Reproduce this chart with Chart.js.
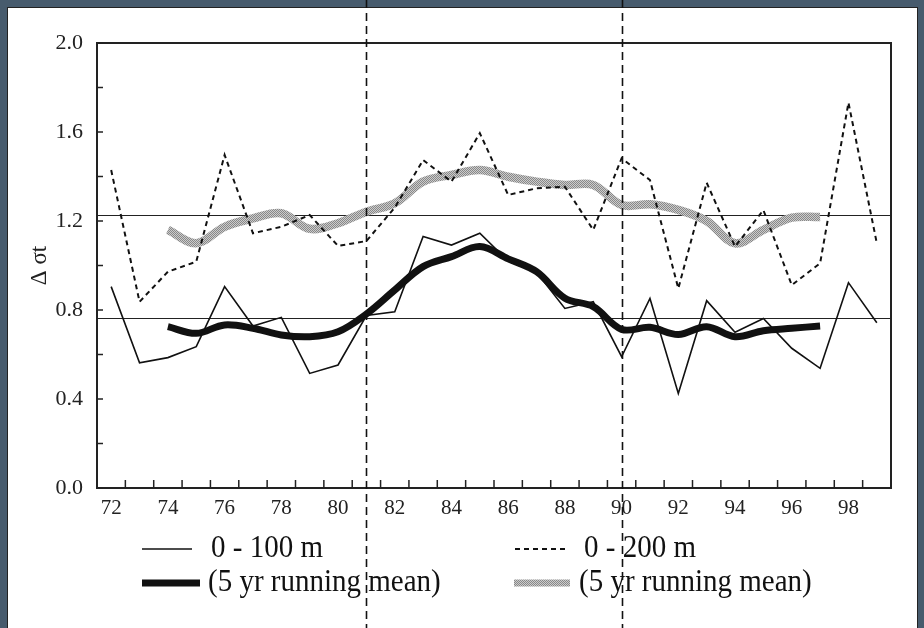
<html><head><meta charset="utf-8">
<script src="https://cdn.jsdelivr.net/npm/chart.js@4.4.0/dist/chart.umd.min.js"></script>
<style>
 body { margin:0; background:#475b6d; width:924px; height:628px; overflow:hidden; position:relative; }
 #paper { position:absolute; left:7px; top:7px; width:909px; height:621px; background:#fff; border-left:1px solid #222; border-top:1px solid #222; border-right:1px solid #222; }
 #c { position:absolute; left:0; top:0; }
</style>
</head>
<body>
<div id="paper"></div>
<canvas id="c" width="924" height="628"></canvas>
<script>
// years 1972..1999
var years = ['72','73','74','75','76','77','78','79','80','81','82','83','84','85',
             '86','87','88','89','90','91','92','93','94','95','96','97','98','99'];
// 0 - 100 m
var sigma100 = [0.905,0.563,0.586,0.635,0.905,0.728,0.767,0.515,0.553,0.775,0.792,1.13,1.092,1.145,
                1.02,0.97,0.807,0.837,0.59,0.852,0.425,0.842,0.70,0.762,0.628,0.538,0.923,0.743];
// 0 - 200 m
var sigma200 = [1.429,0.837,0.972,1.017,1.497,1.145,1.174,1.227,1.088,1.11,1.26,1.474,1.377,1.595,
                1.317,1.347,1.354,1.16,1.482,1.384,0.897,1.372,1.085,1.249,0.912,1.01,1.732,1.10];
// 5 yr running means
var mean100 = [null,null,0.725,0.695,0.733,0.718,0.688,0.68,0.702,0.782,0.89,0.995,1.04,1.085,
               1.03,0.972,0.853,0.815,0.713,0.722,0.69,0.725,0.68,0.707,0.718,0.728,null,null];
var mean200 = [null,null,1.16,1.10,1.174,1.212,1.235,1.165,1.19,1.242,1.28,1.377,1.407,1.429,
               1.399,1.377,1.362,1.362,1.272,1.275,1.25,1.20,1.10,1.16,1.215,1.218,null,null];
var yTicks = [0, 0.4, 0.8, 1.2, 1.6, 2.0];
var refLines = [1.225, 0.765];
var markYears = ['81','90'];
var legendItems = ['0 - 100 m', '(5 yr running mean)', '0 - 200 m', '(5 yr running mean)'];

var serif = "'Liberation Serif', 'DejaVu Serif', serif";

// stippled grey for the 0-200 m running mean
var pc = document.createElement('canvas');
pc.width = 2; pc.height = 2;
var pctx = pc.getContext('2d');
pctx.fillStyle = '#cccccc'; pctx.fillRect(0,0,2,2);
pctx.fillStyle = '#888888'; pctx.fillRect(0,0,1,1); pctx.fillRect(1,1,1,1);
var grey = pctx.createPattern(pc, 'repeat');

var frame = {
  id: 'frame',
  beforeDatasetsDraw: function(chart) {
    var c = chart.ctx, a = chart.chartArea, y = chart.scales.y;
    c.save();
    c.strokeStyle = '#222'; c.lineWidth = 1.2;
    refLines.forEach(function(v) {
      var py = Math.round(y.getPixelForValue(v)) + 0.5;
      c.beginPath(); c.moveTo(a.left, py); c.lineTo(a.right, py); c.stroke();
    });
    c.restore();
  },
  afterDraw: function(chart) {
    var c = chart.ctx, a = chart.chartArea, x = chart.scales.x, y = chart.scales.y;
    c.save();
    // box
    c.strokeStyle = '#222'; c.lineWidth = 2;
    c.strokeRect(a.left, a.top, a.right - a.left, a.bottom - a.top);
    // inward ticks on y every 0.2
    c.lineWidth = 1.5;
    y.ticks.forEach(function(t) {
      var py = y.getPixelForValue(t.value);
      c.beginPath(); c.moveTo(a.left, py); c.lineTo(a.left + 6, py); c.stroke();
    });
    // inward ticks on x at the year boundaries
    var step = x.getPixelForValue(1) - x.getPixelForValue(0);
    for (var i = 1; i < years.length; i++) {
      var px = x.getPixelForValue(i) - step / 2;
      c.beginPath(); c.moveTo(px, a.bottom); c.lineTo(px, a.bottom - 8); c.stroke();
    }
    // legend
    var rows = [549, 583];
    c.strokeStyle = '#111';
    c.lineWidth = 1.5; c.setLineDash([]);
    c.beginPath(); c.moveTo(142, rows[0]); c.lineTo(192, rows[0]); c.stroke();
    c.lineWidth = 7;
    c.beginPath(); c.moveTo(142, rows[1]); c.lineTo(200, rows[1]); c.stroke();
    c.lineWidth = 2; c.setLineDash([5, 4]);
    c.beginPath(); c.moveTo(515, rows[0]); c.lineTo(568, rows[0]); c.stroke();
    c.setLineDash([]);
    c.strokeStyle = grey; c.lineWidth = 7;
    c.beginPath(); c.moveTo(514, rows[1]); c.lineTo(570, rows[1]); c.stroke();
    c.fillStyle = '#111';
    c.font = '29px ' + serif;
    c.textBaseline = 'middle';
    var pos = [[211, rows[0]], [208, rows[1]], [584, rows[0]], [579, rows[1]]];
    legendItems.forEach(function(t, k) {
      c.save();
      c.translate(pos[k][0], pos[k][1]);
      c.scale(1, 1.1);
      c.fillText(t, 0, 0);
      c.restore();
    });
    // dashed year markers, full height
    c.strokeStyle = '#111'; c.lineWidth = 1.6; c.setLineDash([8, 5]);
    markYears.forEach(function(yr) {
      var px = Math.round(x.getPixelForValue(years.indexOf(yr))) + 0.5;
      c.beginPath(); c.moveTo(px, 0); c.lineTo(px, chart.height); c.stroke();
    });
    c.restore();
  }
};

new Chart(document.getElementById('c'), {
  type: 'line',
  data: {
    labels: years,
    datasets: [
      { label: legendItems[0], data: sigma100, borderColor: '#111', borderWidth: 1.6, tension: 0, pointRadius: 0 },
      { label: legendItems[2], data: sigma200, borderColor: '#111', borderWidth: 2, borderDash: [5, 4], tension: 0, pointRadius: 0 },
      { label: legendItems[1], data: mean100, borderColor: '#111', borderWidth: 7, tension: 0.35, pointRadius: 0, borderCapStyle: 'butt' },
      { label: legendItems[3], data: mean200, borderColor: grey, borderWidth: 8.5, tension: 0.35, pointRadius: 0 }
    ]
  },
  options: {
    responsive: false,
    animation: false,
    devicePixelRatio: 1,
    layout: { padding: { left: 22, top: 43, right: 33, bottom: 100 } },
    plugins: { legend: { display: false }, tooltip: { enabled: false } },
    scales: {
      x: {
        type: 'category',
        offset: true,
        grid: { display: false, offset: true, drawTicks: false },
        border: { display: false },
        ticks: {
          autoSkip: false, maxRotation: 0, padding: 8, color: '#222',
          font: { family: serif, size: 21 },
          callback: function(v, i) { return i % 2 === 0 ? years[i] : ''; }
        },
        afterFit: function(s) { s.height = 40; }
      },
      y: {
        min: 0, max: 2,
        grid: { display: false, drawTicks: false },
        border: { display: false },
        ticks: {
          stepSize: 0.2, padding: 14, color: '#222',
          font: { family: serif, size: 22 },
          callback: function(v) {
            var r = Math.round(v * 10) / 10;
            return yTicks.indexOf(r) >= 0 ? r.toFixed(1) : '';
          }
        },
        title: { display: true, text: 'Δ σt', color: '#222', font: { family: serif, size: 23 } },
        afterFit: function(s) { s.width = 75; }
      }
    }
  },
  plugins: [frame]
});
</script>
</body></html>
